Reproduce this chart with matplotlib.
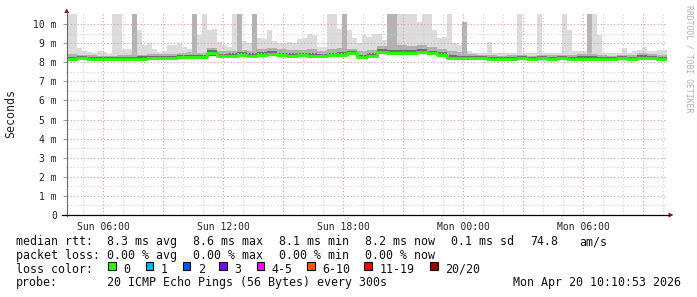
import numpy as np
import matplotlib
matplotlib.use("Agg")
import matplotlib.pyplot as plt
from matplotlib.patches import Rectangle, Polygon
from matplotlib.lines import Line2D

# ---------------- data ----------------
start_hour = 4.1667          # Sun 04:10
coarse_step = 0.5            # 30 min
fine_step = 0.25             # 15 min

# median rtt (ms), 30-min steps
rtt_median = [8.17, 8.22, 8.17, 8.17, 8.16, 8.16, 8.17, 8.18, 8.22, 8.23,
              8.22, 8.25, 8.28, 8.25, 8.50, 8.33, 8.33, 8.40, 8.35, 8.40,
              8.45, 8.38, 8.35, 8.38, 8.35, 8.30, 8.38, 8.38, 8.47, 8.27,
              8.33, 8.55, 8.47, 8.50, 8.47, 8.55, 8.47, 8.38, 8.24, 8.24,
              8.20, 8.20, 8.17, 8.15, 8.17, 8.20, 8.15, 8.20, 8.17, 8.20,
              8.17, 8.18, 8.18, 8.18, 8.15, 8.20, 8.15, 8.24, 8.20, 8.15]
# smallest ping (ms)
rtt_min = [8.12, 8.15, 8.13, 8.12, 8.11, 8.11, 8.12, 8.13, 8.16, 8.17,
           8.16, 8.18, 8.20, 8.18, 8.30, 8.25, 8.25, 8.30, 8.27, 8.30,
           8.35, 8.30, 8.27, 8.30, 8.27, 8.22, 8.30, 8.30, 8.36, 8.20,
           8.25, 8.42, 8.38, 8.40, 8.38, 8.42, 8.37, 8.30, 8.17, 8.18,
           8.14, 8.14, 8.12, 8.10, 8.12, 8.14, 8.10, 8.14, 8.12, 8.14,
           8.12, 8.12, 8.13, 8.12, 8.10, 8.14, 8.10, 8.16, 8.14, 8.10]
# upper edge of the dense (dark) smoke
rtt_q3 = [8.28, 8.32, 8.28, 8.27, 8.26, 8.27, 8.28, 8.30, 8.33, 8.34,
          8.33, 8.36, 8.40, 8.37, 8.62, 8.45, 8.46, 8.52, 8.48, 8.52,
          8.57, 8.50, 8.48, 8.50, 8.48, 8.43, 8.50, 8.52, 8.60, 8.40,
          8.46, 8.68, 8.62, 8.65, 8.62, 8.68, 8.60, 8.52, 8.36, 8.35,
          8.30, 8.30, 8.27, 8.25, 8.28, 8.30, 8.25, 8.31, 8.28, 8.30,
          8.28, 8.30, 8.30, 8.29, 8.25, 8.30, 8.27, 8.36, 8.32, 8.27]
# upper edge of the medium smoke
rtt_upper = [8.45, 8.40, 8.38, 8.35, 8.35, 8.38, 8.40, 8.40, 8.45, 8.45,
             8.45, 8.50, 8.55, 8.50, 8.75, 8.60, 8.60, 8.65, 8.60, 8.70,
             8.75, 8.70, 8.65, 8.65, 8.70, 8.60, 8.70, 8.75, 8.70, 8.60,
             8.65, 8.85, 8.90, 8.90, 8.85, 8.90, 8.80, 8.70, 8.60, 8.55,
             8.45, 8.40, 8.40, 8.35, 8.38, 8.40, 8.35, 8.40, 8.40, 8.40,
             8.40, 8.45, 8.45, 8.40, 8.35, 8.40, 8.40, 8.50, 8.45, 8.40]
# largest ping (ms), 15-min steps
rtt_max = [10.5, 10.5, 8.73, 8.60, 8.55, 8.50, 8.60, 8.55, 8.45, 10.5,
           10.5, 8.70, 8.70, 10.5, 9.69, 8.90, 9.00, 8.70, 8.55, 8.60,
           8.90, 8.90, 9.00, 8.80, 8.70, 10.5, 9.43, 10.5, 9.69, 9.75,
           9.08, 8.90, 8.80, 10.5, 10.5, 9.10, 9.00, 10.5, 9.25, 9.20,
           9.69, 9.10, 9.00, 9.00, 9.05, 9.00, 9.20, 9.25, 9.50, 9.43,
           8.80, 8.80, 10.5, 10.5, 9.75, 10.5, 9.69, 9.25, 9.00, 9.43,
           9.30, 9.50, 9.50, 9.15, 10.5, 10.5, 10.5, 10.5, 10.5, 10.5,
           10.1, 10.5, 10.5, 9.69, 9.25, 9.30, 10.5, 9.00, 8.90, 10.1,
           8.60, 8.50, 8.50, 8.50, 9.08, 8.50, 8.50, 8.50, 8.50, 8.50,
           10.5, 8.50, 8.50, 8.50, 10.5, 8.50, 8.50, 8.50, 8.50, 10.5,
           9.69, 8.60, 8.60, 8.60, 10.5, 10.5, 9.43, 8.50, 8.50, 8.50,
           8.50, 8.73, 8.50, 8.60, 8.65, 8.80, 8.60, 8.60, 8.65, 8.65]
# 15-min slots where many pings were high (darker spikes)
dense_spikes = [13, 25, 34, 37, 55, 64, 65, 79, 104]

x_tick_hours = [6, 12, 18, 24, 30]
x_tick_labels = ["Sun 06:00", "Sun 12:00", "Sun 18:00", "Mon 00:00", "Mon 06:00"]
y_ticks = list(range(0, 11))
y_tick_labels = ["0"] + [f"{v} m" for v in range(1, 11)]

loss_labels = ["0", "1", "2", "3", "4-5", "6-10", "11-19", "20/20"]
loss_colors = ["#26ff00", "#00b8ff", "#0059ff", "#7e00ff", "#ff00ff",
               "#ff5500", "#ff0000", "#a10000"]

# ---------------- figure ----------------
W, H = 697, 297
fig = plt.figure(figsize=(W / 100, H / 100), dpi=100)
fig.patch.set_facecolor("white")

def fx(x):
    return x / W

def fy(y):
    return 1 - y / H

ax_l, ax_r, ax_b, ax_t = 66.7, 666.7, 215.0, 14.45
ax = fig.add_axes([fx(ax_l), fy(ax_b), (ax_r - ax_l) / W, (ax_b - ax_t) / H])
n_c = len(rtt_median)
n_f = len(rtt_max)
t_c = start_hour + coarse_step * np.arange(n_c + 1)
t_f = start_hour + fine_step * np.arange(n_f + 1)
ax.set_xlim(t_c[0], t_c[-1])
ax.set_ylim(0, 10.5)

def ext(a):
    a = np.asarray(a, dtype=float)
    return np.append(a, a[-1])

low_f = np.repeat(np.asarray(rtt_min), 2)
up_f = np.repeat(np.asarray(rtt_upper), 2)
mx = np.asarray(rtt_max)

ax.fill_between(t_f, ext(low_f), ext(mx), step="post", color="#dcdcdc", lw=0, zorder=1)
dense_top = np.where(np.isin(np.arange(n_f), dense_spikes), mx, up_f)
ax.fill_between(t_f, ext(up_f), ext(dense_top), step="post", color="#b4b4b4", lw=0, zorder=1.2)
ax.fill_between(t_c, ext(rtt_min), ext(rtt_upper), step="post", color="#b0b0b0", lw=0, zorder=1.5)
ax.fill_between(t_c, ext(rtt_min), ext(rtt_q3), step="post", color="#6e6e6e", lw=0, zorder=1.8)
ax.plot(t_c, ext(rtt_median), drawstyle="steps-post", color="#26ff00", lw=2.1, zorder=4,
        solid_capstyle="butt")

# grid
red = "#e09a9a"
grey = "#cfcfcf"
for h in range(5, 35):
    ax.axvline(h, color=red if h % 3 == 0 else grey, lw=0.8,
               linestyle=(0, (1, 2)), zorder=3)
for k in range(1, 21):
    v = k * 0.5
    ax.axhline(v, color=red if k % 2 == 0 else grey, lw=0.8,
               linestyle=(0, (1, 2)), zorder=3)

for s in ax.spines.values():
    s.set_visible(False)
ax.set_facecolor("white")
ax.set_xticks(x_tick_hours, x_tick_labels)
ax.set_yticks(y_ticks, y_tick_labels)
ax.tick_params(axis="x", length=0, pad=5, labelsize=7)
ax.tick_params(axis="y", length=3, width=0.7, color="#999999", pad=4, labelsize=7)
for lab in ax.get_xticklabels() + ax.get_yticklabels():
    lab.set_family("DejaVu Sans Mono")
    lab.set_color("#222222")

# axes lines with arrows
fig.add_artist(Line2D([fx(ax_l), fx(ax_l)], [fy(216), fy(12)], color="#666666", lw=0.8))
fig.add_artist(Line2D([fx(62), fx(669)], [fy(ax_b), fy(ax_b)], color="#000000", lw=0.9))
fig.add_artist(Polygon([[fx(64.2), fy(13)], [fx(69.2), fy(13)], [fx(66.7), fy(8.5)]],
                       closed=True, color="#8b1a1a", lw=0))
fig.add_artist(Polygon([[fx(668.5), fy(212.5)], [fx(668.5), fy(217.5)], [fx(673.5), fy(215)]],
                       closed=True, color="#8b1a1a", lw=0))

mono = "DejaVu Sans Mono"
fs = 8.4
fig.text(fx(10.5), fy(114), "Seconds", rotation=90, ha="center", va="center",
         family=mono, size=fs, color="#222222")
fig.text(fx(688.5), fy(5), "RRDTOOL / TOBI OETIKER", rotation=270, ha="center", va="top",
         family=mono, size=5.9, color="#b0b0b0")

def t(x, y, s):
    fig.text(fx(x), fy(y), s, family=mono, size=fs, va="baseline", ha="left", color="#111111")

row1, row2, row3, row4 = 245.2, 258.9, 272.6, 286.4
t(16, row1, "median rtt:")
for x, s in [(107.3, "8.3 ms avg"), (192.7, "8.6 ms max"), (279.3, "8.1 ms min"),
             (365.0, "8.2 ms now"), (450.7, "0.1 ms sd"), (530.0, "74.8"), (579.3, "am/s")]:
    t(x, row1, s)
t(16, row2, "packet loss:")
for x, s in [(107.3, "0.00 % avg"), (193.3, "0.00 % max"), (279.3, "0.00 % min"),
             (365.0, "0.00 % now")]:
    t(x, row2, s)
t(16, row3, "loss color:")
box_x = [108.3, 145.7, 182.7, 219.3, 256.7, 307.3, 364.3, 430.0]
for bx, lab, col in zip(box_x, loss_labels, loss_colors):
    fig.add_artist(Rectangle((fx(bx), fy(269.8)), 7.6 / W, 7.8 / H,
                             facecolor=col, edgecolor="black", lw=0.8))
    t(bx + 15, row3, lab)
t(16, row4, "probe:")
t(107.3, row4, "20 ICMP Echo Pings (56 Bytes) every 300s")
t(513.3, row4, "Mon Apr 20 10:10:53 2026")

fig.savefig("out.png", dpi=100, facecolor="white")
